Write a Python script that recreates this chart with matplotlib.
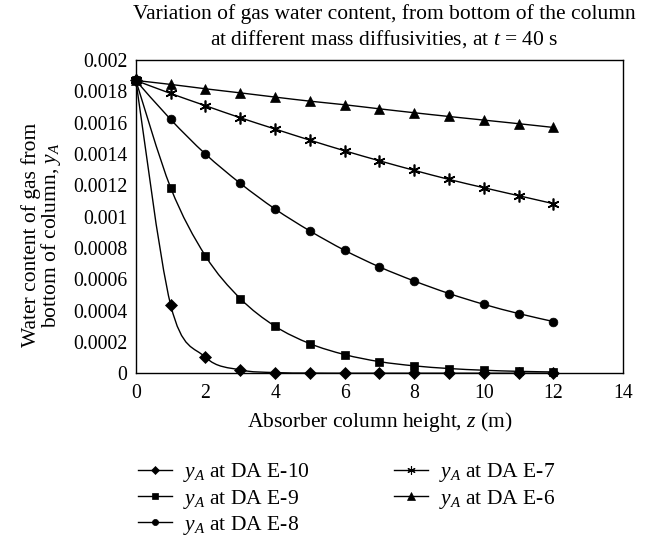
import numpy as np
import matplotlib
matplotlib.use("Agg")
import matplotlib.pyplot as plt
from matplotlib.path import Path
from matplotlib.patches import PathPatch
from matplotlib.lines import Line2D

plt.rcParams['font.family'] = ['Liberation Serif', 'DejaVu Serif']
plt.rcParams['mathtext.fontset'] = 'custom'
plt.rcParams['mathtext.rm'] = 'Liberation Serif'
plt.rcParams['mathtext.it'] = 'Liberation Serif:italic'

z = [0, 1, 2, 3, 4, 5, 6, 7, 8, 9, 10, 11, 12]
y_e10 = [0.00187, 0.000436, 0.000102, 0.000021, 0.000004, 0.000001, 0.0, 0.0, 0.0, 0.0, 0.0, 0.0, 0.0]
y_e9 = [0.00187, 0.001185, 0.000749, 0.000477, 0.000300, 0.000189, 0.000119, 0.000074, 0.000047, 0.000030, 0.000019, 0.000012, 0.000008]
y_e8 = [0.00187, 0.001621, 0.001400, 0.001213, 0.001049, 0.000909, 0.000785, 0.000679, 0.000589, 0.000509, 0.000440, 0.000381, 0.000330]
y_e7 = [0.00187, 0.001787, 0.001709, 0.001632, 0.001560, 0.001489, 0.001421, 0.001357, 0.001296, 0.001238, 0.001185, 0.001134, 0.001083]
y_e6 = [0.00187, 0.001845, 0.001817, 0.001791, 0.001764, 0.001738, 0.001715, 0.001689, 0.001664, 0.001640, 0.001617, 0.001594, 0.001570]

labels = [r'$y_A$ at DA E-10', r'$y_A$ at DA E-9', r'$y_A$ at DA E-8',
          r'$y_A$ at DA E-7', r'$y_A$ at DA E-6']
series = [y_e10, y_e9, y_e8, y_e7, y_e6]
markers = ['D', 's', 'o', (6, 2, 0), '^']
msizes = [6, 6.3, 6.3, 8.5, 7.5]

xticks = [0, 2, 4, 6, 8, 10, 12, 14]
yticks = [0, 0.0002, 0.0004, 0.0006, 0.0008, 0.001, 0.0012, 0.0014, 0.0016, 0.0018, 0.002]
ytick_labels = ['0', '0.0002', '0.0004', '0.0006', '0.0008', '0.001', '0.0012',
                '0.0014', '0.0016', '0.0018', '0.002']


def smooth_path(xs, ys, t=1.0 / 6):
    # Excel-like smoothed line: cubic Bezier segments (Catmull-Rom style control points)
    xs = np.asarray(xs, float)
    ys = np.asarray(ys, float)
    n = len(xs)
    verts = [(xs[0], ys[0])]
    codes = [Path.MOVETO]
    for i in range(n - 1):
        p0 = np.array([xs[max(i - 1, 0)], ys[max(i - 1, 0)]])
        p1 = np.array([xs[i], ys[i]])
        p2 = np.array([xs[i + 1], ys[i + 1]])
        p3 = np.array([xs[min(i + 2, n - 1)], ys[min(i + 2, n - 1)]])
        c1 = p1 + (p2 - p0) * t
        c2 = p2 - (p3 - p1) * t
        verts += [tuple(c1), tuple(c2), tuple(p2)]
        codes += [Path.CURVE4] * 3
    return Path(verts, codes)


fig = plt.figure(figsize=(6.47, 5.37), dpi=100)
ax = fig.add_axes([0.210, 0.305, 0.753, 0.583])

handles = []
for ys, lab, m, ms in zip(series, labels, markers, msizes):
    ax.add_patch(PathPatch(smooth_path(z, ys), facecolor='none', edgecolor='black',
                           lw=1.0, transform=ax.transData, zorder=2))
    mew = 1.2 if isinstance(m, tuple) else 0.5
    ax.plot(z, ys, linestyle='none', marker=m, markersize=ms, color='black',
            markeredgewidth=mew, zorder=3, clip_on=False)
    handles.append(Line2D([], [], color='black', lw=1.0, marker=m,
                          markersize=ms * 0.7, markeredgewidth=0.8 if isinstance(m, tuple) else 0.5,
                          label=lab))

ax.set_xlim(0, 14)
ax.set_ylim(0, 0.002)
ax.set_xticks(xticks)
ax.set_xticklabels([str(v) for v in xticks])
ax.set_yticks(yticks)
ax.set_yticklabels(ytick_labels)
ax.tick_params(axis='both', length=0, labelsize=14.2)
ax.tick_params(axis='x', pad=8)
ax.tick_params(axis='y', pad=6)
for sp in ax.spines.values():
    sp.set_linewidth(1.0)

ax.set_xlabel(r'Absorber column height, $z$ (m)', fontsize=15.5, labelpad=5)
ax.set_ylabel('Water content of gas from\n' + r'bottom of column, $y_A$', fontsize=15.5,
              linespacing=0.88)
ax.yaxis.set_label_coords(-0.150, 0.441)
ax.set_title('Variation of gas water content, from bottom of the column\n'
             r'at different mass diffusivities, at $t$ = 40 s', fontsize=15.5,
             linespacing=1.25, pad=11, x=0.51)

leg = fig.legend(handles=handles, loc='upper left', bbox_to_anchor=(138 / 647, 0.1407),
                 ncol=2, frameon=False, fontsize=15.5, handlelength=1.6,
                 columnspacing=3.9, labelspacing=0.15, handletextpad=0.5,
                 borderpad=0, borderaxespad=0)

fig.savefig('out.png', dpi=100)
